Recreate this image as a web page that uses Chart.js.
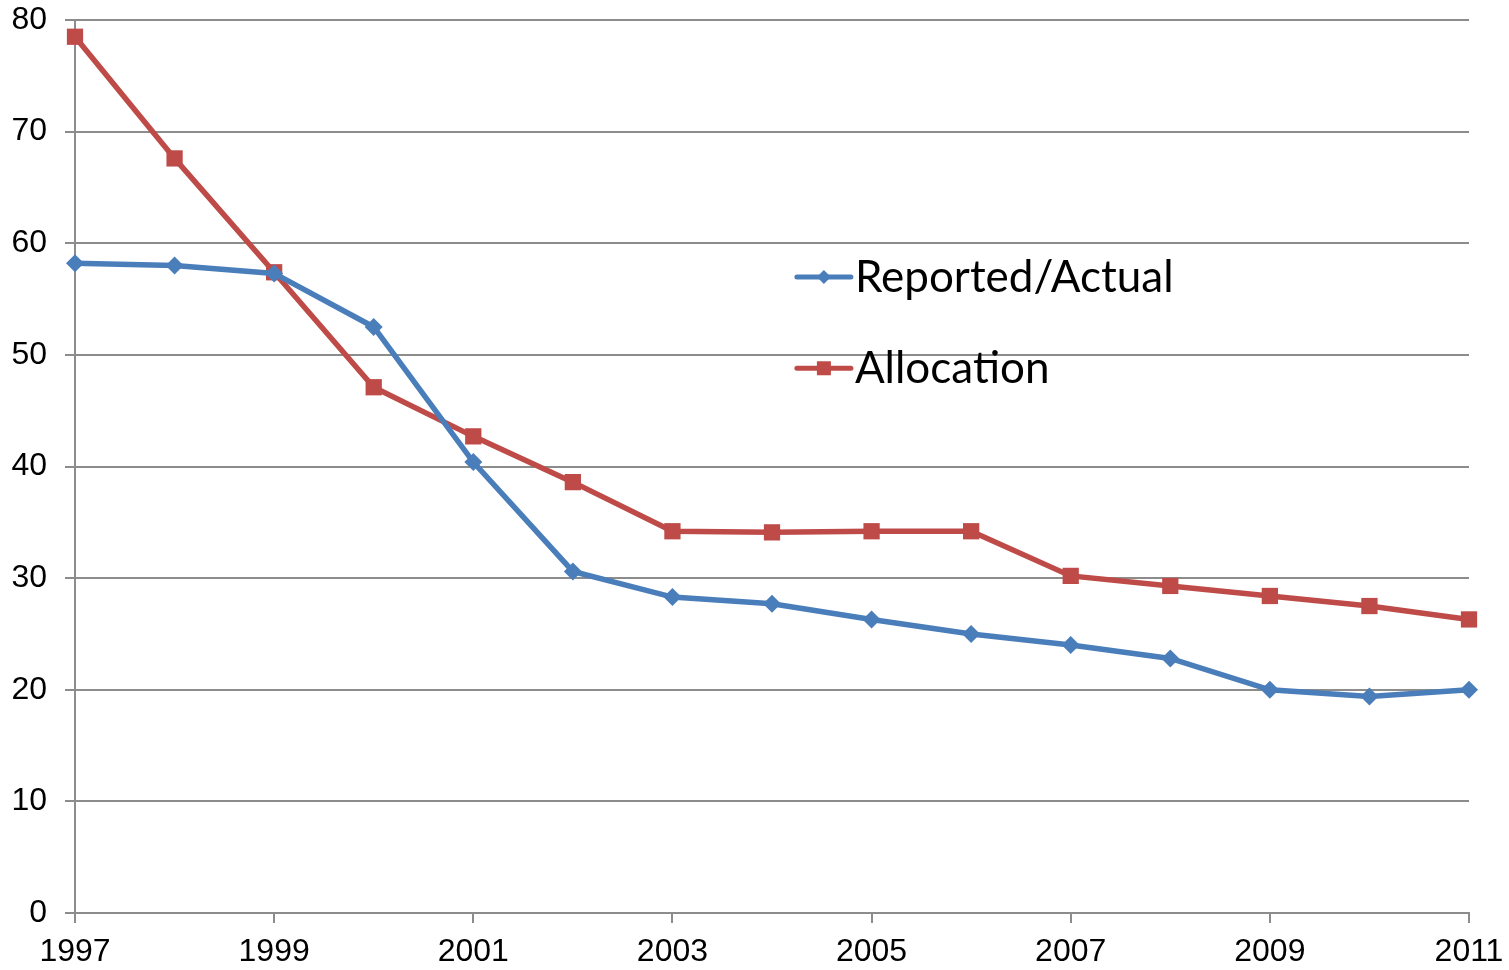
<!DOCTYPE html>
<html>
<head>
<meta charset="utf-8">
<script src="https://cdn.jsdelivr.net/npm/chart.js@4.4.0/dist/chart.umd.min.js"></script>
<style>
  html, body { margin: 0; padding: 0; background: #fff; }
  canvas { display: block; }
</style>
</head>
<body>
<canvas id="c" width="1509" height="970"></canvas>
<script>
// Years on the horizontal axis
const years = [1997, 1998, 1999, 2000, 2001, 2002, 2003, 2004, 2005, 2006, 2007, 2008, 2009, 2010, 2011];
// Series values
const reportedActual = [58.2, 58.0, 57.3, 52.5, 40.4, 30.6, 28.3, 27.7, 26.3, 25.0, 24.0, 22.8, 20.0, 19.4, 20.0];
const allocation = [78.5, 67.6, 57.4, 47.1, 42.7, 38.6, 34.2, 34.1, 34.2, 34.2, 30.2, 29.3, 28.4, 27.5, 26.3];
const seriesNames = ['Reported/Actual', 'Allocation'];

const BLUE = '#4a7ebb';
const RED = '#be4b48';
const GRID = '#8c8c8c';

const toPoints = vals => years.map((yr, i) => ({ x: yr, y: vals[i] }));

// Legend drawn inside the plotting area
const insideLegend = {
  id: 'insideLegend',
  afterDraw(chart) {
    const ctx = chart.ctx;
    const xs = chart.scales.x, ys = chart.scales.y;
    const lx0 = xs.getPixelForValue(2004.25);
    const lx1 = lx0 + 54;
    const rows = [ys.getPixelForValue(56.98), ys.getPixelForValue(48.8)];
    ctx.save();
    chart.data.datasets.forEach((ds, i) => {
      const y = rows[i];
      ctx.strokeStyle = ds.borderColor;
      ctx.lineWidth = 5;
      ctx.lineCap = 'round';
      ctx.beginPath();
      ctx.moveTo(lx0, y);
      ctx.lineTo(lx1, y);
      ctx.stroke();
      const mx = (lx0 + lx1) / 2;
      ctx.fillStyle = ds.pointBackgroundColor;
      if (ds.pointStyle === 'rect') {
        ctx.fillRect(mx - 7, y - 7, 14, 14);
      } else {
        ctx.beginPath();
        ctx.moveTo(mx, y - 7);
        ctx.lineTo(mx + 7, y);
        ctx.lineTo(mx, y + 7);
        ctx.lineTo(mx - 7, y);
        ctx.closePath();
        ctx.fill();
      }
      ctx.fillStyle = '#000';
      ctx.font = '44px Lato';
      ctx.textAlign = 'left';
      ctx.textBaseline = 'middle';
      ctx.fillText(ds.label, lx1 + 4, y + 1);
    });
    ctx.restore();
  }
};

new Chart(document.getElementById('c'), {
  type: 'line',
  data: {
    datasets: [
      {
        label: seriesNames[0],
        data: toPoints(reportedActual),
        borderColor: BLUE,
        backgroundColor: BLUE,
        pointBackgroundColor: BLUE,
        pointBorderColor: BLUE,
        pointStyle: 'rectRot',
        pointRadius: 9,
        pointBorderWidth: 0,
        borderWidth: 5.5,
        tension: 0
      },
      {
        label: seriesNames[1],
        data: toPoints(allocation),
        borderColor: RED,
        backgroundColor: RED,
        pointBackgroundColor: RED,
        pointBorderColor: RED,
        pointStyle: 'rect',
        pointRadius: 11.5,
        pointBorderWidth: 0,
        borderWidth: 5.5,
        tension: 0
      }
    ]
  },
  options: {
    responsive: false,
    animation: false,
    clip: false,
    layout: { padding: { top: 20, right: 40, bottom: 0, left: 0 } },
    plugins: {
      legend: { display: false },
      tooltip: { enabled: false }
    },
    scales: {
      x: {
        type: 'linear',
        min: 1997,
        max: 2011,
        ticks: {
          stepSize: 2,
          autoSkip: false,
          maxRotation: 0,
          color: '#000',
          padding: 10,
          font: { family: 'Liberation Sans', size: 32 },
          callback: v => String(v)
        },
        grid: {
          drawOnChartArea: false,
          drawTicks: true,
          tickLength: 10,
          color: GRID,
          lineWidth: 2
        },
        border: { display: true, color: GRID, width: 2 },
        afterFit: s => { s.height = 57; s.paddingLeft = 0; s.paddingRight = 0; }
      },
      y: {
        min: 0,
        max: 80,
        ticks: {
          stepSize: 10,
          color: '#000',
          padding: 18,
          font: { family: 'Liberation Sans', size: 32 }
        },
        grid: {
          color: GRID,
          lineWidth: 2,
          tickLength: 10
        },
        border: { display: true, color: GRID, width: 2 },
        afterFit: s => { s.width = 75; s.paddingTop = 0; s.paddingBottom = 0; }
      }
    }
  },
  plugins: [insideLegend]
});
</script>
</body>
</html>
